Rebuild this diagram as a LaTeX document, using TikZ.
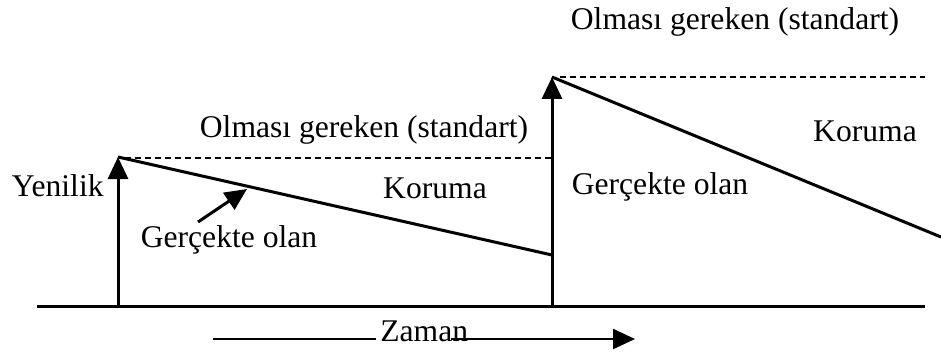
\documentclass[tikz,border=0pt]{standalone}
\usepackage{fontspec}
\setmainfont{Liberation Serif}
\usetikzlibrary{arrows.meta}

\begin{document}
\begin{tikzpicture}[x=0.5pt, y=0.5pt, >={Triangle[length=11pt,width=10pt]},
  lbl/.style={font=\fontsize{15.8}{19}\selectfont, inner sep=0pt},
  std/.style={line width=1pt, dash pattern=on 3pt off 2pt},
  real/.style={line width=1.5pt}]
  \useasboundingbox (0,0) rectangle (941,354);
  % Time axis
  \coordinate (t0) at (37,48);
  \coordinate (t1) at (925,48);
  \draw[real] (t0) -- (t1);
  % First innovation
  \coordinate (a0) at (118,46);
  \coordinate (a1) at (118,197);
  \coordinate (s1) at (125,196);
  \coordinate (s2) at (552,196);
  \coordinate (r1) at (552,99);
  \draw[real, ->] (a0) -- (a1);
  \draw[std] (s1) -- (s2);
  \draw[real] (a1) -- (r1);
  % Second innovation
  \coordinate (b0) at (552,46);
  \coordinate (b1) at (552,277);
  \coordinate (u1) at (560,277);
  \coordinate (u2) at (925,277);
  \coordinate (r2) at (941,117);
  \draw[real, ->] (b0) -- (b1);
  \draw[std] (u1) -- (u2);
  \draw[real] (b1) -- (r2);
  % Labels
  \node[lbl] (std2) at (735,332) {Olması gereken (standart)};
  \node[lbl] (std1) at (364,224) {Olması gereken (standart)};
  \node[lbl, anchor=east] (yen) at (104,168) {Yenilik};
  \node[lbl] (kor1) at (435,166) {Koruma};
  \node[lbl] (ger1) at (229,114) {Gerçekte olan};
  \node[lbl] (ger2) at (660,167) {Gerçekte olan};
  \node[lbl] (kor2) at (865,223) {Koruma};
  % Pointer to the real line
  \coordinate (p0) at (198,132);
  \coordinate (p1) at (247,165);
  \draw[real, ->] (p0) -- (p1);
  % Time arrow
  \node[lbl, anchor=base west] (zam) at (380,13) {Zaman};
  \coordinate (z0) at (213,15);
  \coordinate (z1) at (635,15);
  \draw[line width=1.2pt] (z0) -- ([xshift=-2pt]z0 -| zam.west);
  \draw[line width=1.2pt, ->] ([xshift=-9pt]z1 -| zam.east) -- (z1);
\end{tikzpicture}
\end{document}
